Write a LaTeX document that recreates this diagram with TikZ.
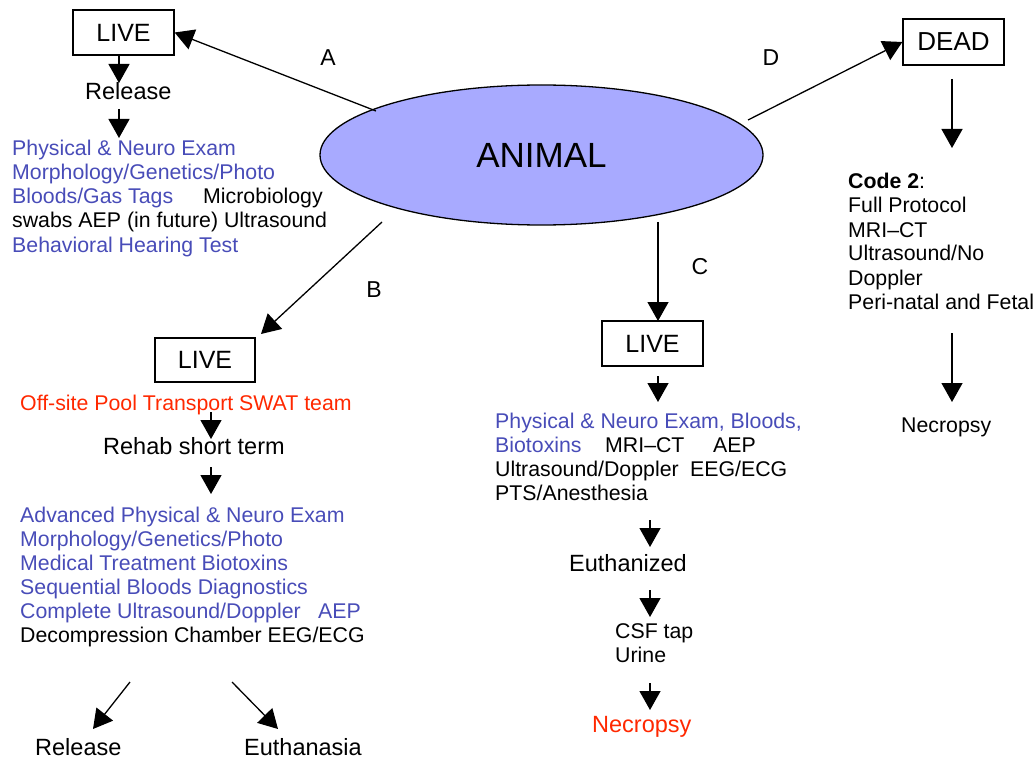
\documentclass[tikz,border=0pt]{standalone}
\usepackage{fontspec}
\setmainfont{Liberation Sans}
\usetikzlibrary{shapes.geometric,arrows.meta}
\definecolor{tblue}{RGB}{72,76,184}
\definecolor{tred}{RGB}{255,40,0}
\definecolor{efill}{RGB}{168,170,255}
\begin{document}
\begin{tikzpicture}[x=1pt,y=-1pt,
  arr/.style={line width=1.3pt,-{Triangle[length=19pt,width=21pt]}},
  tx/.style={anchor=base west,inner sep=0,font=\fontsize{21.3}{24}\selectfont},
  bx/.style={anchor=base west,inner sep=0,font=\fontsize{23.5}{28}\selectfont},
  lbl/.style={inner sep=0,font=\fontsize{23}{28}\selectfont},
  livebox/.style={draw,line width=1.3pt,inner sep=0,minimum width=101pt,minimum height=45pt,font=\fontsize{25}{30}\selectfont}]
\useasboundingbox (0,0) rectangle (1035,759);

% central ellipse
\node[ellipse,draw,line width=1.3pt,fill=efill,minimum width=443pt,minimum height=140pt,inner sep=0,
      font=\fontsize{35}{40}\selectfont] (animal) at (541.5,155) {ANIMAL};

% boxes
\node[livebox] (liveA) at (123.5,32.5) {LIVE};
\node[livebox,minimum width=100pt,minimum height=44pt] (liveB) at (205,360) {LIVE};
\node[livebox] (liveC) at (652.5,343.5) {LIVE};
\node[livebox,minimum height=46pt,font=\fontsize{26}{30}\selectfont] (dead) at (953.5,42) {DEAD};

% branch labels
\node[lbl] (labA) at (328,58) {A};
\node[lbl] (labB) at (374,290) {B};
\node[lbl] (labC) at (700,267) {C};
\node[lbl] (labD) at (771,58) {D};

% ---- branch A ----
\node[bx] (relA) at (85,100) {Release};
\node[tx,text=tblue] (a1) at (12,156) {Physical \& Neuro Exam};
\node[tx,text=tblue] (a2) at (12,180) {Morphology/Genetics/Photo};
\node[tx,text=tblue] (a3) at (12,204) {Bloods/Gas Tags};
\node[tx] (a3b) at (203,204) {Microbiology};
\node[tx] (a4) at (12,228) {swabs AEP (in future) Ultrasound};
\node[tx,text=tblue] (a5) at (12,252) {Behavioral Hearing Test};

% ---- branch B ----
\node[tx,text=tred] (b0) at (20,410) {Off-site Pool Transport SWAT team};
\node[bx] (rehab) at (103,454) {Rehab short term};
\node[tx,text=tblue] (b1) at (20,522) {Advanced Physical \& Neuro Exam};
\node[tx,text=tblue] (b2) at (20,546) {Morphology/Genetics/Photo};
\node[tx,text=tblue] (b3) at (20,570) {Medical Treatment Biotoxins};
\node[tx,text=tblue] (b4) at (20,594) {Sequential Bloods Diagnostics};
\node[tx,text=tblue] (b5) at (20,618) {Complete Ultrasound/Doppler};
\node[tx,text=tblue] (b5b) at (318,618) {AEP};
\node[tx] (b6) at (20,642) {Decompression Chamber EEG/ECG};
\node[bx] (relB) at (35,755) {Release};
\node[bx] (euthB) at (244,755) {Euthanasia};

% ---- branch C ----
\node[tx,text=tblue] (c1) at (495,428) {Physical \& Neuro Exam, Bloods,};
\node[tx,text=tblue] (c2) at (495,452) {Biotoxins};
\node[tx] (c2b) at (605,452) {MRI–CT};
\node[tx] (c2c) at (713,452) {AEP};
\node[tx] (c3) at (495,476) {Ultrasound/Doppler};
\node[tx] (c3b) at (690,476) {EEG/ECG};
\node[tx] (c4) at (495,500) {PTS/Anesthesia};
\node[bx] (euthC) at (569,571) {Euthanized};
\node[tx] (csf) at (615,638) {CSF tap};
\node[tx] (urine) at (615,662) {Urine};
\node[bx,text=tred] (necC) at (592,732) {Necropsy};

% ---- branch D ----
\node[tx] (d1) at (848,189) {\textbf{Code 2}:};
\node[tx] (d2) at (848,213) {Full Protocol};
\node[tx] (d3) at (848,237) {MRI–CT};
\node[tx] (d4) at (848,261) {Ultrasound/No};
\node[tx] (d5) at (848,285) {Doppler};
\node[tx] (d6) at (848,309) {Peri-natal and Fetal};
\node[tx] (necD) at (901,432) {Necropsy};

% connector end points
\coordinate (eA) at (376,111);
\coordinate (eB) at (382,222);
\coordinate (eC) at (658,222);
\coordinate (eD) at (748,120);
\coordinate (tB) at (261,334);
\coordinate (tC) at (658,321);
\coordinate (pA1) at (119,55);   \coordinate (qA1) at (119,83);
\coordinate (pA2) at (119,109);  \coordinate (qA2) at (119,138);
\coordinate (pB1) at (211,412);  \coordinate (qB1) at (211,439);
\coordinate (pB2) at (211,467);  \coordinate (qB2) at (211,494);
\coordinate (pB3) at (130,682);  \coordinate (qB3) at (93,729);
\coordinate (pB4) at (232,682);  \coordinate (qB4) at (278,729);
\coordinate (pC1) at (658,376);  \coordinate (qC1) at (658,402);
\coordinate (pC2) at (650,520);  \coordinate (qC2) at (650,547);
\coordinate (pC3) at (650,590);  \coordinate (qC3) at (650,617);
\coordinate (pC4) at (650,683);  \coordinate (qC4) at (650,710);
\coordinate (pD1) at (952,79);   \coordinate (qD1) at (952,148);
\coordinate (pD2) at (952,333);  \coordinate (qD2) at (952,402);

% connectors
\draw[arr] (eA) -- (liveA.east);
\draw[arr] (eB) -- (tB);
\draw[arr] (eC) -- (tC);
\draw[arr] (eD) -- (dead.west);
\draw[arr] (pA1) -- (qA1);
\draw[arr] (pA2) -- (qA2);
\draw[arr] (pB1) -- (qB1);
\draw[arr] (pB2) -- (qB2);
\draw[arr] (pB3) -- (qB3);
\draw[arr] (pB4) -- (qB4);
\draw[arr] (pC1) -- (qC1);
\draw[arr] (pC2) -- (qC2);
\draw[arr] (pC3) -- (qC3);
\draw[arr] (pC4) -- (qC4);
\draw[arr] (pD1) -- (qD1);
\draw[arr] (pD2) -- (qD2);
\end{tikzpicture}
\end{document}
